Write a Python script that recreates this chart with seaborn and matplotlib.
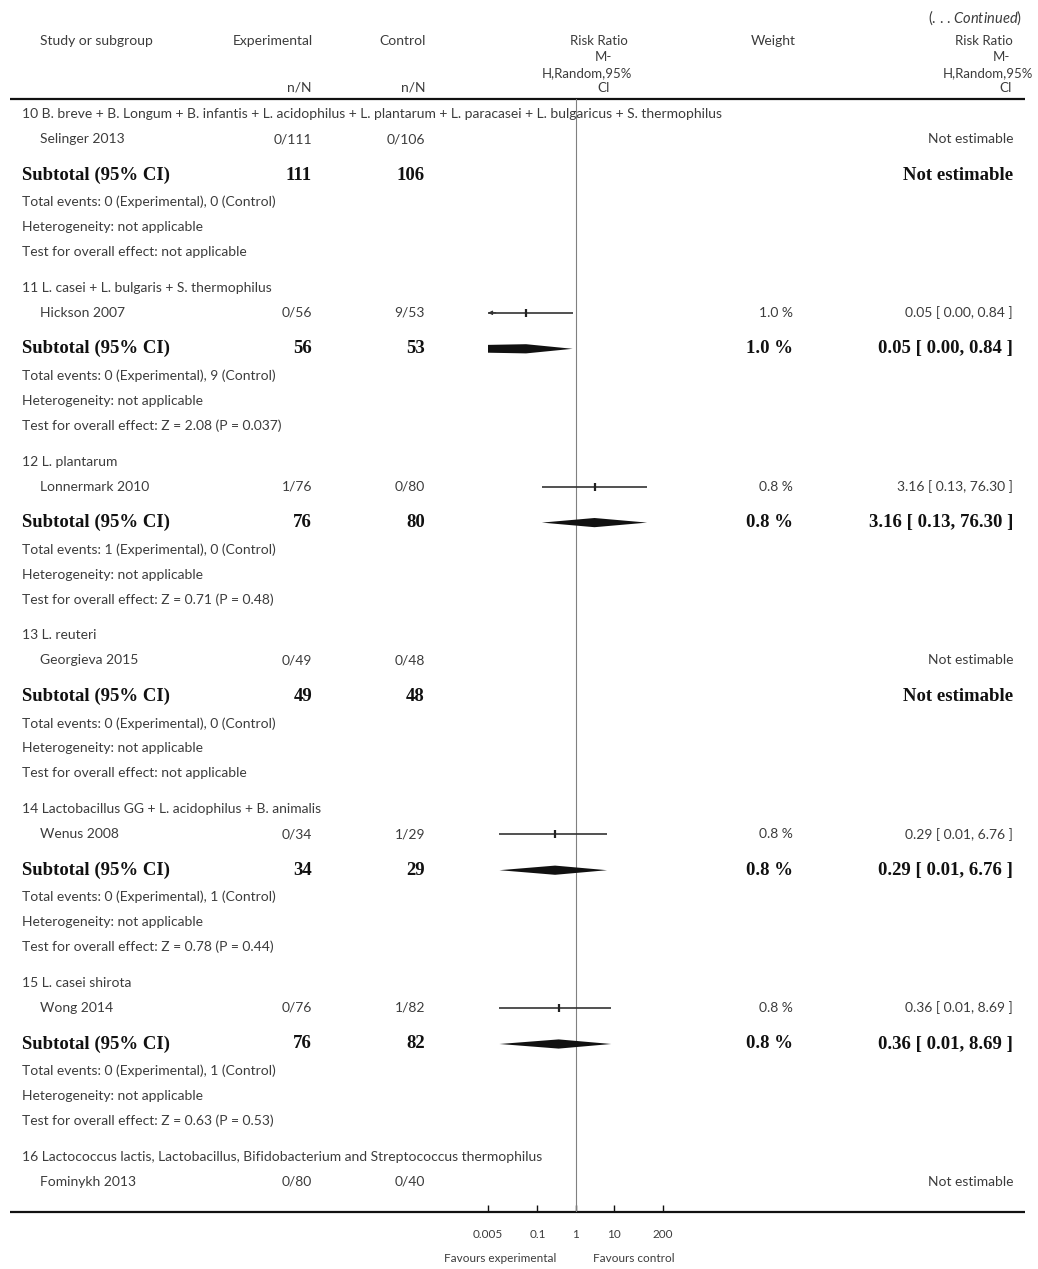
import numpy as np
import matplotlib
matplotlib.use("Agg")
import matplotlib.pyplot as plt
import seaborn as sns

# ---- data -----------------------------------------------------------------
groups = [
    "10 B. breve + B. Longum + B. infantis + L. acidophilus + L. plantarum + L. paracasei + L. bulgaricus + S. thermophilus",
    "11 L. casei + L. bulgaris + S. thermophilus",
    "12 L. plantarum",
    "13 L. reuteri",
    "14 Lactobacillus GG + L. acidophilus + B. animalis",
    "15 L. casei shirota",
    "16 Lactococcus lactis, Lactobacillus, Bifidobacterium and Streptococcus thermophilus",
]
studies = ["Selinger 2013", "Hickson 2007", "Lonnermark 2010", "Georgieva 2015",
           "Wenus 2008", "Wong 2014", "Fominykh 2013"]
exp_events = [0, 0, 1, 0, 0, 0, 0]
exp_total = [111, 56, 76, 49, 34, 76, 80]
ctrl_events = [0, 9, 0, 0, 1, 1, 0]
ctrl_total = [106, 53, 80, 48, 29, 82, 40]
weights = [None, 1.0, 0.8, None, 0.8, 0.8, None]
rr = [None, 0.05, 3.16, None, 0.29, 0.36, None]
rr_lo = [None, 0.00, 0.13, None, 0.01, 0.01, None]
rr_hi = [None, 0.84, 76.30, None, 6.76, 8.69, None]
overall_test = ["not applicable", "Z = 2.08 (P = 0.037)", "Z = 0.71 (P = 0.48)",
                "not applicable", "Z = 0.78 (P = 0.44)", "Z = 0.63 (P = 0.53)"]
has_subtotal = [True, True, True, True, True, True, False]

tick_values = [0.005, 0.1, 1, 10, 200]
tick_labels = ["0.005", "0.1", "1", "10", "200"]

# ---- style ----------------------------------------------------------------
sns.set_theme(style="white")
plt.rcParams["font.family"] = ["Lato", "DejaVu Sans"]
plt.rcParams["mathtext.fontset"] = "custom"
plt.rcParams["mathtext.rm"] = "Lato"
plt.rcParams["mathtext.it"] = "Lato:italic"

W, H = 1038, 1269
fig = plt.figure(figsize=(W / 100, H / 100), dpi=100)
fig.patch.set_facecolor("white")

# page layer in pixel units
bg = fig.add_axes([0, 0, 1, 1], zorder=0)
bg.set_xlim(0, W)
bg.set_ylim(H, 0)
bg.axis("off")

GREY = "#3c3c3c"
BLACK = "#111111"
NFS = 10.0      # normal text size
BFS = 13.5      # bold subtotal size
SERIF = ["Liberation Serif", "DejaVu Serif"]


def txt(x, y, s, ha="left", size=NFS, color=GREY, **kw):
    bg.text(x, y, s, ha=ha, va="center", fontsize=size, color=color, **kw)


def btxt(x, y, s, ha="left"):
    bg.text(x, y, s, ha=ha, va="center", fontsize=BFS, color=BLACK,
            family=SERIF, fontweight="bold")


# header
txt(1022, 18, "(. . . $\\it{Continued}$)", ha="right", size=10.5)
txt(40, 41, "Study or subgroup")
txt(273, 41, "Experimental", ha="center")
txt(403, 41, "Control", ha="center")
txt(312, 88, "n/N", ha="right")
txt(425, 88, "n/N", ha="right")
for yy, s, cx in [(41, "Risk Ratio", 599), (57, "M-", 603), (73, "H,Random,95%", 587), (88, "CI", 604)]:
    txt(cx, yy, s, ha="center", size=9.5)
txt(773, 41, "Weight", ha="center")
for yy, s, cx in [(41, "Risk Ratio", 984), (57, "M-", 1001), (73, "H,Random,95%", 988), (88, "CI", 1006)]:
    txt(cx, yy, s, ha="center", size=9.5)

bg.plot([10, 1025], [99, 99], color=BLACK, lw=1.6, solid_capstyle="butt")
bg.plot([10, 1025], [1212, 1212], color=BLACK, lw=1.6, solid_capstyle="butt")

# ---- layout of rows ---------------------------------------------------------
base_y = 114 + 173.8 * np.arange(len(groups))
study_y = base_y + 25
sub_y = base_y + 61

EXP_X, CTL_X, WGT_X, RR_X = 312, 425, 793, 1013


def fmt_ci(i):
    return f"{rr[i]:.2f} [ {rr_lo[i]:.2f}, {rr_hi[i]:.2f} ]"


for i, g in enumerate(groups):
    txt(22, base_y[i], g)
    txt(40, study_y[i], studies[i])
    txt(EXP_X, study_y[i], f"{exp_events[i]}/{exp_total[i]}", ha="right")
    txt(CTL_X, study_y[i], f"{ctrl_events[i]}/{ctrl_total[i]}", ha="right")
    if rr[i] is None:
        txt(RR_X, study_y[i], "Not estimable", ha="right")
    else:
        txt(WGT_X, study_y[i], f"{weights[i]:.1f} %", ha="right")
        txt(RR_X, study_y[i], fmt_ci(i), ha="right")
    if not has_subtotal[i]:
        continue
    btxt(22, sub_y[i], "Subtotal (95% CI)")
    btxt(EXP_X, sub_y[i], f"{exp_total[i]}", ha="right")
    btxt(CTL_X, sub_y[i], f"{ctrl_total[i]}", ha="right")
    if rr[i] is None:
        btxt(RR_X, sub_y[i], "Not estimable", ha="right")
    else:
        btxt(WGT_X, sub_y[i], f"{weights[i]:.1f} %", ha="right")
        btxt(RR_X, sub_y[i], fmt_ci(i), ha="right")
    txt(22, base_y[i] + 88,
        f"Total events: {exp_events[i]} (Experimental), {ctrl_events[i]} (Control)")
    txt(22, base_y[i] + 113, "Heterogeneity: not applicable")
    txt(22, base_y[i] + 138, f"Test for overall effect: {overall_test[i]}")

# ---- forest panel -------------------------------------------------------------
X0, X1, YT, YB = 488, 663, 99, 1212
ax = fig.add_axes([X0 / W, 1 - YB / H, (X1 - X0) / W, (YB - YT) / H], zorder=1)
ax.patch.set_alpha(0)
ax.set_xscale("log")
xmin, xmax = tick_values[0], tick_values[-1]
ax.set_xlim(xmin, xmax)
ax.set_ylim(YB, YT)
for sp in ax.spines.values():
    sp.set_visible(False)
ax.set_yticks([])
ax.set_xticks(tick_values)
ax.set_xticklabels(tick_labels)
ax.minorticks_off()
ax.tick_params(axis="x", direction="in", length=5, width=1, color=BLACK,
               labelsize=8.5, labelcolor=GREY, pad=12, bottom=True)
ax.axvline(1, color="#808080", lw=0.8, zorder=1)

est_idx = [i for i in range(len(groups)) if rr[i] is not None]
est_rr = [rr[i] for i in est_idx]
est_y = [study_y[i] for i in est_idx]

for i in est_idx:
    lo = max(rr_lo[i], xmin)
    hi = min(rr_hi[i], xmax)
    ax.hlines(study_y[i], lo, hi, color="#333333", lw=1.2, zorder=2)
    if rr_lo[i] < xmin:
        ax.annotate("", xy=(xmin, study_y[i]), xytext=(xmin * 1.6, study_y[i]),
                    arrowprops=dict(arrowstyle="-|>", color="#333333", lw=0.8,
                                    mutation_scale=6, shrinkA=0, shrinkB=0),
                    zorder=3)
    # pooled diamond
    yc, hh = sub_y[i], 4.6
    if rr_lo[i] < xmin:
        px = [xmin, rr[i], hi, rr[i], xmin]
        py = [yc - hh * 0.85, yc - hh, yc, yc + hh, yc + hh * 0.85]
    else:
        px = [lo, rr[i], hi, rr[i]]
        py = [yc, yc - hh, yc, yc + hh]
    ax.fill(px, py, color=BLACK, lw=0, zorder=3)

sns.scatterplot(x=est_rr, y=est_y, marker="|", s=40, color="#222222",
                linewidth=1.6, ax=ax, zorder=4, legend=False)

txt(500, 1258, "Favours experimental", ha="center", size=8.5)
txt(634, 1258, "Favours control", ha="center", size=8.5)

fig.savefig("out.png", dpi=100, facecolor="white")
